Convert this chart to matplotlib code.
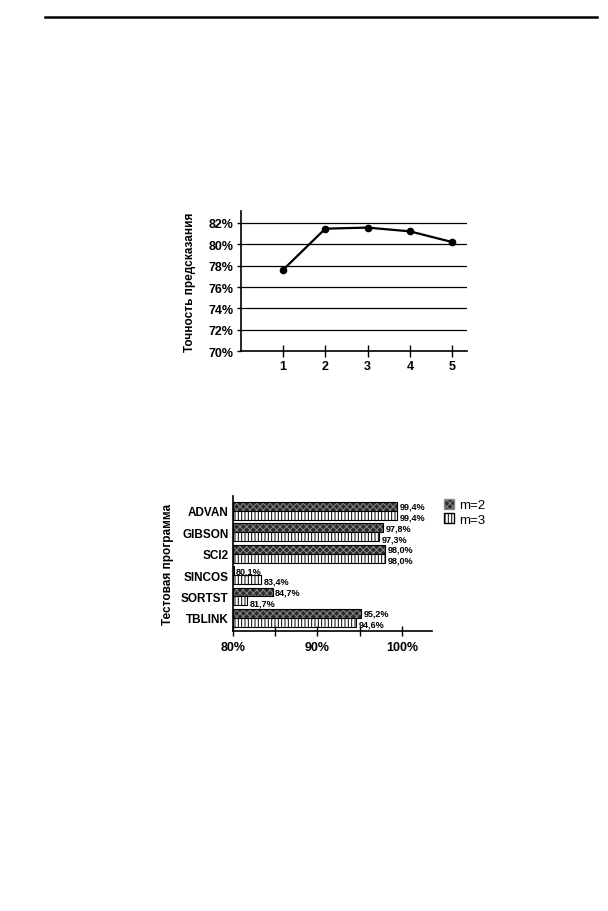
import matplotlib
matplotlib.use("Agg")
import matplotlib.pyplot as plt
import numpy as np
from matplotlib.lines import Line2D
from matplotlib.patches import Patch

plt.rcParams['font.family'] = ['Liberation Sans', 'DejaVu Sans']
plt.rcParams['font.weight'] = 'bold'
plt.rcParams['hatch.linewidth'] = 0.7

# top chart: prediction accuracy vs history depth
depth = [1, 2, 3, 4, 5]
accuracy = [77.6, 81.45, 81.55, 81.2, 80.2]
acc_ticks = [70, 72, 74, 76, 78, 80, 82]

# bottom chart: accuracy by test program
programs = ['ADVAN', 'GIBSON', 'SCI2', 'SINCOS', 'SORTST', 'TBLINK']
m2 = [99.4, 97.8, 98.0, 80.1, 84.7, 95.2]
m3 = [99.4, 97.3, 98.0, 83.4, 81.7, 94.6]
m2_labels = ['99,4%', '97,8%', '98,0%', '80,1%', '84,7%', '95,2%']
m3_labels = ['99,4%', '97,3%', '98,0%', '83,4%', '81,7%', '94,6%']

W, H = 608, 912
fig = plt.figure(figsize=(W / 100, H / 100), dpi=100)
fig.patch.set_facecolor('white')

# page header rule
fig.add_artist(Line2D([45 / W, 597 / W], [1 - 18 / H, 1 - 18 / H],
                      color='black', linewidth=1.8, transform=fig.transFigure))

def box(l, t, r, b):
    return [l / W, 1 - b / H, (r - l) / W, (b - t) / H]

# ---- line chart ----
ax1 = fig.add_axes(box(240.7, 212, 467, 352.3))
ax1.set_xlim(0, 5.35)
ax1.set_ylim(70, 83.1)
for v in acc_ticks:
    ax1.axhline(v, color='black', linewidth=0.9, zorder=1)
ax1.plot(depth, accuracy, color='black', linewidth=1.6, marker='o',
         markersize=4.5, zorder=3)
ax1.set_yticks(acc_ticks)
ax1.set_yticklabels([f'{v}%' for v in acc_ticks], fontsize=9, fontweight='bold')
ax1.set_xticks(depth)
ax1.set_xticklabels([str(d) for d in depth], fontsize=9, fontweight='bold')
ax1.tick_params(axis='x', direction='inout', length=8, width=1, pad=2)
ax1.tick_params(axis='y', direction='out', length=3, width=1, pad=2)
for s in ['top', 'right']:
    ax1.spines[s].set_visible(False)
ax1.spines['left'].set_linewidth(1.2)
ax1.spines['bottom'].set_linewidth(1.2)
ax1.set_ylabel('Точность предсказания', fontsize=8.5, fontweight='bold', labelpad=9)

# ---- bar chart ----
ax2 = fig.add_axes(box(232.7, 497, 431.7, 631.7))
y = np.arange(len(programs))
bh = 0.42
ax2.barh(y - bh / 2, [v - 80 for v in m2], left=80, height=bh,
         color='#2a2a2a', edgecolor='#8a8a8a', hatch='xxxxx', linewidth=0)
ax2.barh(y - bh / 2, [v - 80 for v in m2], left=80, height=bh,
         fill=False, edgecolor='black', linewidth=0.8)
ax2.barh(y + bh / 2, [v - 80 for v in m3], left=80, height=bh,
         color='white', edgecolor='black', hatch='|||||', linewidth=0.8)
for i in range(len(programs)):
    ax2.text(m2[i] + 0.3, y[i] - bh / 2, m2_labels[i], fontsize=6.5,
             fontweight='bold', va='center', ha='left')
    ax2.text(m3[i] + 0.3, y[i] + bh / 2 + 0.08, m3_labels[i], fontsize=6.5,
             fontweight='bold', va='center', ha='left')
ax2.set_xlim(80, 103.5)
ax2.set_ylim(5.6, -0.7)
ax2.set_xticks([80, 85, 90, 95, 100])
ax2.set_xticklabels(['80%', '', '90%', '', '100%'], fontsize=9, fontweight='bold')
ax2.tick_params(axis='x', direction='inout', length=7, width=1, pad=4)
ax2.set_yticks(y)
ax2.set_yticklabels(programs, fontsize=8.5, fontweight='bold')
ax2.tick_params(axis='y', length=0, pad=3)
for s in ['top', 'right']:
    ax2.spines[s].set_visible(False)
ax2.spines['left'].set_linewidth(1.2)
ax2.spines['bottom'].set_linewidth(1.2)
ax2.set_ylabel('Тестовая программа', fontsize=8.5, fontweight='bold', labelpad=5)

handles = [Patch(facecolor='#2a2a2a', edgecolor='#8a8a8a', hatch='xxxxx', label='m=2'),
           Patch(facecolor='white', edgecolor='black', hatch='|||||', label='m=3')]
ax2.legend(handles=handles, loc='upper left', bbox_to_anchor=(1.06, 0.98),
           frameon=False, handlelength=0.8, handleheight=0.8,
           handletextpad=0.4, labelspacing=0.15, borderaxespad=0, borderpad=0,
           prop={'size': 9.5, 'weight': 'normal'})

fig.savefig('out.png', dpi=100, facecolor='white')
